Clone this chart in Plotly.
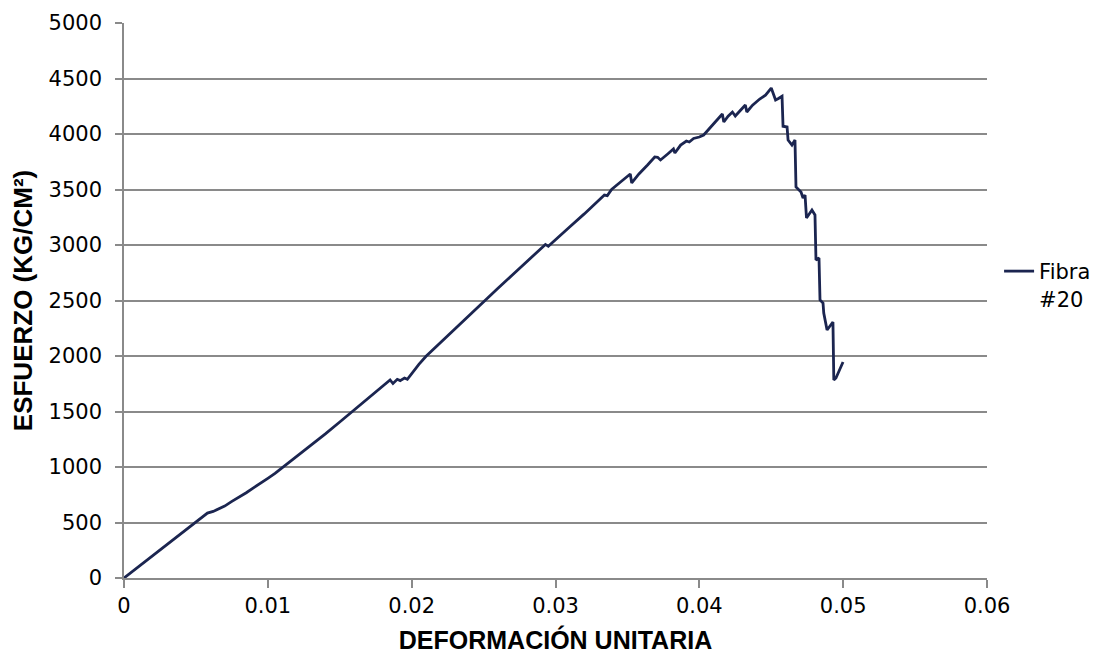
import plotly.graph_objects as go

# Stress-strain curve for fibre #20
strain = [
    0, 0.0058, 0.0062, 0.0066, 0.0068, 0.0070, 0.0075, 0.0080, 0.0085, 0.0090,
    0.0095, 0.0100, 0.0105, 0.0110, 0.0115, 0.0120, 0.0130, 0.0140, 0.0150, 0.0160,
    0.0170, 0.0178, 0.0185, 0.0187, 0.0190, 0.0192, 0.0195, 0.0197, 0.0200, 0.0205,
    0.0210, 0.0220, 0.0230, 0.0240, 0.0250, 0.0260, 0.0270, 0.0280, 0.0290, 0.0293,
    0.0295, 0.0300, 0.0310, 0.0320, 0.0330, 0.0334, 0.0336, 0.0339, 0.0345, 0.0352,
    0.0353, 0.0358, 0.0364, 0.0369, 0.0371, 0.0373, 0.0378, 0.0382, 0.0383, 0.0387,
    0.0391, 0.0393, 0.0396, 0.0400, 0.0403, 0.0407, 0.0411, 0.0416, 0.0417, 0.0420,
    0.0423, 0.0425, 0.0428, 0.0432, 0.0433, 0.0437, 0.0442, 0.0446, 0.0450, 0.0453,
    0.0455, 0.04575, 0.04582, 0.04610, 0.04617, 0.04644, 0.04665, 0.04672, 0.04707, 0.04721,
    0.04735, 0.04742, 0.04745, 0.04783, 0.04804, 0.04811, 0.04832, 0.04839, 0.04860, 0.04865,
    0.04888, 0.04929, 0.04935, 0.04950, 0.04999,
]
stress = [
    0, 585, 600, 622, 640, 648, 690, 728, 768, 812,
    852, 898, 942, 992, 1040, 1090, 1192, 1298, 1405, 1512,
    1625, 1712, 1784, 1752, 1790, 1778, 1802, 1790, 1845, 1925,
    1998, 2122, 2245, 2370, 2490, 2610, 2730, 2850, 2970, 3005,
    2988, 3050, 3165, 3280, 3395, 3450, 3445, 3500, 3565, 3640,
    3559, 3640, 3721, 3793, 3790, 3766, 3820, 3865, 3829, 3900,
    3937, 3928, 3960, 3973, 3991, 4050, 4108, 4180, 4108, 4160,
    4198, 4162, 4205, 4261, 4198, 4260, 4315, 4350, 4414, 4306,
    4320, 4340, 4070, 4063, 3946, 3901, 3946, 3523, 3477, 3423,
    3450, 3315, 3243, 3315, 3270, 2865, 2883, 2505, 2477, 2387,
    2234, 2306, 1784, 1802, 1946,
]

series_name = "Fibra<br>#20"
x_title = "DEFORMACIÓN UNITARIA"
y_title = "ESFUERZO (KG/CM²)"

grid_color = "#8a8a8a"
line_color = "#1b2550"

fig = go.Figure()
fig.add_trace(go.Scatter(
    x=strain, y=stress, mode="lines", name=series_name,
    line=dict(color=line_color, width=2.8),
))

fig.update_layout(
    width=1111, height=666,
    margin=dict(l=124, r=124, t=23, b=88),
    paper_bgcolor="white", plot_bgcolor="white",
    font=dict(family="DejaVu Sans", size=21, color="black"),
    showlegend=True,
    legend=dict(
        x=1.014, y=0.528, xanchor="left", yanchor="middle",
        valign="top", font=dict(family="DejaVu Sans", size=21, color="black"),
        bgcolor="rgba(0,0,0,0)", borderwidth=0,
    ),
)

fig.update_xaxes(
    range=[0, 0.06], dtick=0.01, tick0=0,
    showgrid=False, zeroline=False,
    showline=True, linecolor=grid_color, linewidth=1.5,
    ticks="outside", ticklen=8, tickwidth=1.5, tickcolor=grid_color,
    tickfont=dict(family="DejaVu Sans", size=21),
    title=dict(text=x_title, font=dict(family="Liberation Sans", size=25, weight="bold"), standoff=15),
)
fig.update_yaxes(
    range=[0, 5000], dtick=500, tick0=0,
    showgrid=True, gridcolor=grid_color, gridwidth=1.5,
    zeroline=False,
    showline=True, linecolor=grid_color, linewidth=1.5,
    ticks="outside", ticklen=7, tickwidth=1.5, tickcolor=grid_color,
    tickfont=dict(family="DejaVu Sans", size=21),
    ticklabelstandoff=9,
    title=dict(text=y_title, font=dict(family="Liberation Sans", size=26, weight="bold"), standoff=8),
)

fig.write_html("out.html")
